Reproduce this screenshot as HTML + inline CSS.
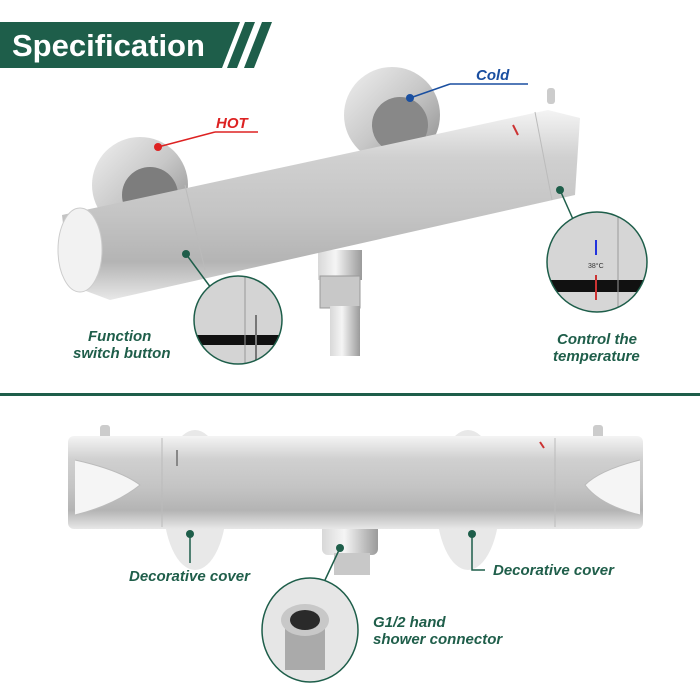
<!DOCTYPE html>
<html><head><meta charset="utf-8"><style>
html,body{margin:0;padding:0;background:#fff;}
svg{display:block}
.lbl{font-family:"Liberation Sans",sans-serif;font-weight:bold;font-style:italic;fill:#1f5e4a;font-size:15px}
</style></head><body>
<svg width="700" height="700" viewBox="0 0 700 700" xmlns="http://www.w3.org/2000/svg">
<defs>
<linearGradient id="bar" x1="0" y1="0" x2="0" y2="1">
<stop offset="0" stop-color="#f4f4f4"/><stop offset="0.25" stop-color="#d0d0d0"/><stop offset="0.55" stop-color="#c4c4c4"/><stop offset="0.8" stop-color="#b4b4b4"/><stop offset="1" stop-color="#e8e8e8"/>
</linearGradient>
<linearGradient id="disk" x1="0" y1="0" x2="1" y2="1">
<stop offset="0" stop-color="#f0f0f0"/><stop offset="0.5" stop-color="#c8c8c8"/><stop offset="1" stop-color="#8a8a8a"/>
</linearGradient>
<linearGradient id="pipe" x1="0" y1="0" x2="1" y2="0">
<stop offset="0" stop-color="#d8d8d8"/><stop offset="0.4" stop-color="#f5f5f5"/><stop offset="1" stop-color="#9a9a9a"/>
</linearGradient>
<clipPath id="c1"><circle cx="238" cy="320" r="44"/></clipPath>
<clipPath id="c2"><circle cx="597" cy="262" r="50"/></clipPath>
<clipPath id="c3"><ellipse cx="310" cy="630" rx="48" ry="52"/></clipPath>
</defs>
<!-- banner -->
<polygon points="0,22 240,22 222,68 0,68" fill="#1e5e4a"/>
<polygon points="245,22 255,22 237,68 227,68" fill="#1e5e4a"/>
<polygon points="262,22 272,22 254,68 244,68" fill="#1e5e4a"/>
<text x="12" y="56" font-family="Liberation Sans,sans-serif" font-weight="bold" font-size="31" fill="#fff">Specification</text>
<!-- separator -->
<rect x="0" y="393" width="700" height="3" fill="#1e5e4a"/>

<!-- top faucet -->
<circle cx="140" cy="185" r="48" fill="url(#disk)"/>
<circle cx="150" cy="195" r="28" fill="#7d7d7d"/>
<circle cx="392" cy="115" r="48" fill="url(#disk)"/>
<circle cx="400" cy="125" r="28" fill="#888"/>
<rect x="318" y="250" width="44" height="30" fill="url(#pipe)"/>
<rect x="320" y="276" width="40" height="32" fill="#c8c8c8" stroke="#999"/>
<rect x="330" y="306" width="30" height="50" fill="url(#pipe)"/>
<polygon points="62,215 548,110 580,118 575,195 110,300 70,285" fill="url(#bar)"/>
<ellipse cx="80" cy="250" rx="22" ry="42" fill="#f2f2f2" stroke="#ccc"/>
<line x1="185" y1="185" x2="205" y2="270" stroke="#bbb"/>
<line x1="535" y1="112" x2="552" y2="200" stroke="#bbb"/>
<rect x="547" y="88" width="8" height="16" rx="3" fill="#ccc"/>
<line x1="513" y1="125" x2="518" y2="135" stroke="#c33" stroke-width="2"/>
<!-- hot/cold -->
<line x1="158" y1="147" x2="215" y2="132" stroke="#d22" stroke-width="1.5"/><line x1="215" y1="132" x2="258" y2="132" stroke="#d22" stroke-width="1.5"/>
<circle cx="158" cy="147" r="4" fill="#d22"/>
<text x="216" y="128" font-family="Liberation Sans,sans-serif" font-weight="bold" font-style="italic" font-size="15" fill="#d22">HOT</text>
<line x1="410" y1="98" x2="450" y2="84" stroke="#1a4fa0" stroke-width="1.5"/><line x1="450" y1="84" x2="528" y2="84" stroke="#1a4fa0" stroke-width="1.5"/>
<circle cx="410" cy="98" r="4" fill="#1a4fa0"/>
<text x="476" y="80" font-family="Liberation Sans,sans-serif" font-weight="bold" font-style="italic" font-size="15" fill="#1a4fa0">Cold</text>
<!-- zoom circles top -->
<line x1="186" y1="254" x2="214" y2="292" stroke="#1e5e4a" stroke-width="1.5"/><circle cx="186" cy="254" r="4" fill="#1e5e4a"/>
<g clip-path="url(#c1)"><rect x="190" y="275" width="100" height="90" fill="#d4d4d4"/><rect x="190" y="335" width="100" height="10" fill="#111"/><line x1="245" y1="270" x2="245" y2="370" stroke="#999"/><line x1="256" y1="315" x2="256" y2="360" stroke="#777" stroke-width="2"/></g>
<circle cx="238" cy="320" r="44" fill="none" stroke="#1e5e4a" stroke-width="1.5"/>
<line x1="560" y1="190" x2="580" y2="235" stroke="#1e5e4a" stroke-width="1.5"/><circle cx="560" cy="190" r="4" fill="#1e5e4a"/>
<g clip-path="url(#c2)"><rect x="545" y="210" width="105" height="105" fill="#d6d6d6"/><rect x="545" y="280" width="105" height="12" fill="#111"/><line x1="618" y1="205" x2="618" y2="320" stroke="#999"/><line x1="596" y1="240" x2="596" y2="255" stroke="#23d" stroke-width="2"/><line x1="596" y1="275" x2="596" y2="300" stroke="#c33" stroke-width="2"/><text x="588" y="268" font-size="7" font-family="Liberation Sans" fill="#333">38°C</text></g>
<circle cx="597" cy="262" r="50" fill="none" stroke="#1e5e4a" stroke-width="1.5"/>
<text class="lbl" x="88" y="341">Function</text>
<text class="lbl" x="73" y="358">switch button</text>
<text class="lbl" x="557" y="344">Control the</text>
<text class="lbl" x="553" y="361">temperature</text>

<!-- bottom faucet -->
<ellipse cx="195" cy="500" rx="32" ry="70" fill="#e8e8e8"/>
<ellipse cx="468" cy="500" rx="32" ry="70" fill="#e8e8e8"/>
<rect x="322" y="520" width="56" height="35" rx="6" fill="url(#pipe)"/>
<rect x="334" y="553" width="36" height="22" fill="#c8c8c8"/>
<rect x="100" y="425" width="10" height="14" rx="3" fill="#ccc"/>
<rect x="593" y="425" width="10" height="14" rx="3" fill="#ccc"/>
<rect x="68" y="436" width="575" height="93" rx="6" fill="url(#bar)"/>
<path d="M75,460 Q120,470 140,485 Q115,505 75,515" fill="#f5f5f5" stroke="#bbb"/>
<path d="M640,460 Q600,470 585,485 Q600,505 640,515" fill="#f5f5f5" stroke="#bbb"/>
<line x1="162" y1="438" x2="162" y2="527" stroke="#bbb"/>
<line x1="555" y1="438" x2="555" y2="527" stroke="#bbb"/>
<line x1="177" y1="450" x2="177" y2="466" stroke="#888" stroke-width="2"/>
<line x1="540" y1="442" x2="544" y2="448" stroke="#c33" stroke-width="2"/>
<line x1="190" y1="534" x2="190" y2="563" stroke="#1e5e4a" stroke-width="1.5"/><circle cx="190" cy="534" r="4" fill="#1e5e4a"/>
<text class="lbl" x="129" y="581">Decorative cover</text>
<polyline points="472,534 472,570 485,570" fill="none" stroke="#1e5e4a" stroke-width="1.5"/><circle cx="472" cy="534" r="4" fill="#1e5e4a"/>
<text class="lbl" x="493" y="575">Decorative cover</text>
<line x1="340" y1="548" x2="325" y2="580" stroke="#1e5e4a" stroke-width="1.5"/><circle cx="340" cy="548" r="4" fill="#1e5e4a"/>
<g clip-path="url(#c3)"><rect x="260" y="575" width="100" height="110" fill="#e6e6e6"/><rect x="285" y="625" width="40" height="45" fill="#aaa"/><ellipse cx="305" cy="620" rx="24" ry="16" fill="#c8c8c8"/><ellipse cx="305" cy="620" rx="15" ry="10" fill="#2a2a2a"/></g>
<ellipse cx="310" cy="630" rx="48" ry="52" fill="none" stroke="#1e5e4a" stroke-width="1.5"/>
<text class="lbl" x="373" y="627">G1/2 hand</text>
<text class="lbl" x="373" y="644">shower connector</text>
</svg>
</body></html>
